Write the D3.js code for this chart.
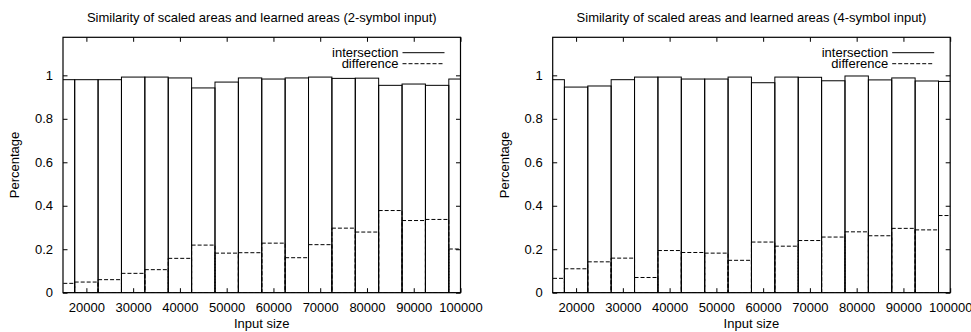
<!DOCTYPE html>
<html>
<head>
<meta charset="utf-8">
<script src="https://cdn.jsdelivr.net/npm/d3@7"></script>
<style>
  html, body { margin: 0; padding: 0; background: #fff; }
  svg { display: block; }
  text { font-family: "Liberation Sans", Arial, sans-serif; font-size: 13px; fill: #000; }
</style>
</head>
<body>
<script>
// ---- data ----
const inputSizes = [15000, 20000, 25000, 30000, 35000, 40000, 45000, 50000, 55000,
                    60000, 65000, 70000, 75000, 80000, 85000, 90000, 95000, 100000];
const intersection2 = [0.980, 0.980, 0.980, 0.992, 0.992, 0.988, 0.942, 0.969, 0.988,
                       0.983, 0.988, 0.992, 0.986, 0.987, 0.954, 0.960, 0.954, 0.983];
const difference2   = [0.043, 0.049, 0.060, 0.089, 0.106, 0.158, 0.219, 0.182, 0.184,
                       0.228, 0.161, 0.221, 0.297, 0.279, 0.378, 0.332, 0.337, 0.201];
const intersection4 = [0.980, 0.946, 0.951, 0.980, 0.992, 0.992, 0.983, 0.983, 0.992,
                       0.966, 0.992, 0.991, 0.975, 0.997, 0.979, 0.988, 0.974, 0.972];
const difference4   = [0.066, 0.110, 0.142, 0.159, 0.070, 0.194, 0.185, 0.182, 0.149,
                       0.233, 0.214, 0.240, 0.256, 0.280, 0.262, 0.296, 0.289, 0.355];
const xTickValues = [20000, 30000, 40000, 50000, 60000, 70000, 80000, 90000, 100000];
const yTickValues = [0, 0.2, 0.4, 0.6, 0.8, 1];
const titles = ["Similarity of scaled areas and learned areas (2-symbol input)",
                "Similarity of scaled areas and learned areas (4-symbol input)"];
const seriesNames = ["intersection", "difference"];
const xLabel = "Input size";
const yLabel = "Percentage";
const boxWidth = 5000;

// ---- layout ----
const W = 971, H = 332;
const svg = d3.select("body").append("svg").attr("width", W).attr("height", H);

const panels = [
  { left: 63,    inter: intersection2, diff: difference2, title: titles[0] },
  { left: 552.7, inter: intersection4, diff: difference4, title: titles[1] }
];
const plotW = 397.5, plotTop = 37.3, plotBottom = 292.7, plotH = plotBottom - plotTop;
const tickLen = 4.5;

panels.forEach((p, i) => {
  const g = svg.append("g").attr("transform", `translate(${p.left},${plotTop})`);
  const x = d3.scaleLinear().domain([15000, 100000]).range([0, plotW]);
  const y = d3.scaleLinear().domain([0, 1.175]).range([plotH, 0]);

  const clipId = "clip" + i;
  g.append("clipPath").attr("id", clipId).append("rect")
    .attr("x", 0).attr("y", 0).attr("width", plotW).attr("height", plotH);

  const rows = inputSizes.map((s, k) => ({ s, a: p.inter[k], d: p.diff[k] }));
  const bars = g.append("g").attr("clip-path", `url(#${clipId})`);

  bars.selectAll("rect.inter").data(rows).join("rect")
    .attr("class", "inter")
    .attr("x", d => x(d.s - boxWidth / 2))
    .attr("width", d => x(d.s + boxWidth / 2) - x(d.s - boxWidth / 2))
    .attr("y", d => y(d.a))
    .attr("height", d => y(0) - y(d.a))
    .attr("fill", "none").attr("stroke", "#000").attr("stroke-width", 1);

  bars.selectAll("rect.diff").data(rows).join("rect")
    .attr("class", "diff")
    .attr("x", d => x(d.s - boxWidth / 2))
    .attr("width", d => x(d.s + boxWidth / 2) - x(d.s - boxWidth / 2))
    .attr("y", d => y(d.d))
    .attr("height", d => y(0) - y(d.d))
    .attr("fill", "none").attr("stroke", "#000").attr("stroke-width", 1)
    .attr("stroke-dasharray", "4,2");

  // axes (gnuplot style: inward ticks, mirrored)
  const axB = d3.axisBottom(x).tickValues(xTickValues).tickSize(-tickLen).tickPadding(10).tickFormat(d3.format("d"));
  const axT = d3.axisTop(x).tickValues(xTickValues).tickSize(-tickLen).tickFormat("");
  const axL = d3.axisLeft(y).tickValues(yTickValues).tickSize(-tickLen).tickPadding(10).tickFormat(d => d3.format("~g")(d));
  const axR = d3.axisRight(y).tickValues(yTickValues).tickSize(-tickLen).tickFormat("");

  const style = sel => {
    sel.select(".domain").remove();
    sel.selectAll(".tick line").attr("stroke", "#000").attr("stroke-width", 1);
    sel.selectAll("text").attr("font-family", null).attr("font-size", null);
  };
  g.append("g").attr("transform", `translate(0,${plotH})`).call(axB).call(style);
  g.append("g").call(axT).call(style);
  g.append("g").call(axL).call(style);
  g.append("g").attr("transform", `translate(${plotW},0)`).call(axR).call(style);

  // border
  g.append("rect").attr("x", 0).attr("y", 0).attr("width", plotW).attr("height", plotH)
    .attr("fill", "none").attr("stroke", "#000").attr("stroke-width", 1.2);

  // title
  g.append("text").attr("x", plotW / 2).attr("y", 22 - plotTop)
    .attr("text-anchor", "middle").text(p.title);

  // axis labels
  g.append("text").attr("x", plotW / 2).attr("y", 328 - plotTop)
    .attr("text-anchor", "middle").text(xLabel);
  g.append("text")
    .attr("transform", `translate(${19 - 63},${plotH / 2}) rotate(-90)`)
    .attr("text-anchor", "middle").text(yLabel);

  // legend
  const legY = [15.4, 26.4];
  const dashes = [null, "4,2"];
  seriesNames.forEach((name, k) => {
    g.append("text").attr("x", plotW - 62).attr("y", legY[k]).attr("dy", "0.35em")
      .attr("text-anchor", "end").text(name);
    g.append("line").attr("x1", plotW - 58).attr("x2", plotW - 16)
      .attr("y1", legY[k]).attr("y2", legY[k])
      .attr("stroke", "#000").attr("stroke-width", 1)
      .attr("stroke-dasharray", dashes[k]);
  });
});
</script>
</body>
</html>
